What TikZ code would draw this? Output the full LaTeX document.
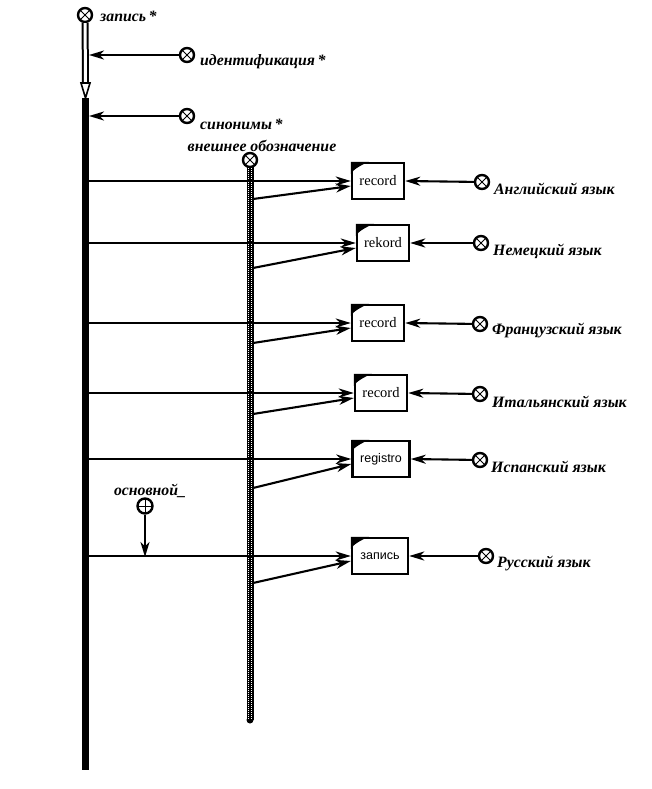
\documentclass[tikz,border=0pt]{standalone}
\usepackage{fontspec}
\setmainfont{Liberation Serif}
\newfontfamily\boxfont{Liberation Sans}
\usetikzlibrary{arrows.meta,calc}
\begin{document}
\begin{tikzpicture}[x=1pt,y=-1pt,
  lbl/.style={font=\fontsize{15.8}{18}\selectfont\bfseries\itshape, inner sep=0pt},
  xcirc/.style={circle, draw, line width=2.4pt, minimum size=14pt, inner sep=0pt, fill=white,
    path picture={\draw[line width=0.8pt] (path picture bounding box.north west)--(path picture bounding box.south east)
      (path picture bounding box.north east)--(path picture bounding box.south west);}},
  pcirc/.style={circle, draw, line width=2.4pt, minimum size=15pt, inner sep=0pt, fill=white,
    path picture={\draw[line width=1pt] (path picture bounding box.north)--(path picture bounding box.south)
      (path picture bounding box.east)--(path picture bounding box.west);}},
  conn/.style={line width=2.1pt, -{Stealth[length=15pt,width=9pt,inset=4.5pt]}},
  term/.style={rectangle, draw, line width=2.4pt, minimum width=52pt, minimum height=36pt, fill=white,
    inner sep=1pt, font=\fontsize{14.5}{16}\selectfont}]
\useasboundingbox (0,0) rectangle (652,789);

% main bar
\draw[line width=7.5pt] (85.5,98) -- (85.5,770);
\coordinate (mainx) at (89,0);
% hatched bar
\fill[black] (246.5,166) rectangle (253.5,720);
\fill[black] (250,720) circle (3.5);
\foreach \xx in {248.5,251.5}
  \draw[white, line width=1pt, dash pattern=on 1pt off 1pt] (\xx,168) -- (\xx,719);
\coordinate (hatx) at (253,0);

% circles
\node[xcirc] (c1) at (85,15) {};
\node[xcirc] (c2) at (187,55) {};
\node[xcirc] (c3) at (187,116) {};
\node[xcirc] (c4) at (250,160) {};
\node[pcirc] (p1) at (145,506) {};

% labels
\node[lbl, anchor=west] at (100,16) {запись\,*};
\node[lbl, anchor=west] at (200,62) {идентификация\,*};
\node[lbl, anchor=west] at (200,124) {синонимы\,*};
\node[lbl] at (262,146) {внешнее обозначение};
\node[lbl] at (150,491) {основной\_};

% double line from c1
\draw[line width=2pt, double=white, double distance=3pt] (c1) -- (85.5,84);
\filldraw[fill=white, line width=1.6pt] (81,83) -- (85.5,98) -- (90,83) -- cycle;

\draw[conn] (c2) -- (mainx |- c2);
\draw[conn] (c3) -- (mainx |- c3);

% terminal boxes
\node[term] (b1) at (378,181) {record};
\node[term] (b2) at (383,243) {rekord};
\node[term] (b3) at (378,323) {record};
\node[term] (b4) at (381,393) {record};
\node[term, minimum width=57pt, font=\fontsize{12.5}{14}\selectfont\boxfont] (b5) at (381,459) {registro};
\node[term, minimum width=56pt, font=\fontsize{12.5}{14}\selectfont\boxfont] (b6) at (380,556) {запись};
\foreach \b in {b1,b2,b3,b4,b5,b6}
  \fill (\b.north west) -- ++(18,0) .. controls +(-7,3) and +(3,-5) .. ++(-18,12) -- cycle;

% language circles
\node[xcirc] (l1) at (482,182) {};
\node[xcirc] (l2) at (481,243) {};
\node[xcirc] (l3) at (480,324) {};
\node[xcirc] (l4) at (480,394) {};
\node[xcirc] (l5) at (480,460) {};
\node[xcirc] (l6) at (486,556) {};
\node[lbl, anchor=west] at (494,189) {Английский язык};
\node[lbl, anchor=west] at (493,251) {Немецкий язык};
\node[lbl, anchor=west] at (492,331) {Французский язык};
\node[lbl, anchor=west] at (492,402) {Итальянский язык};
\node[lbl, anchor=west] at (491,467) {Испанский язык};
\node[lbl, anchor=west] at (497,564) {Русский язык};

% connectors
\foreach \b/\l/\ys in {b1/l1/199, b2/l2/268, b3/l3/343, b4/l4/414, b5/l5/488, b6/l6/583} {
  \draw[conn] (mainx |- \b.west) -- (\b.west);
  \draw[conn] (253,\ys) -- ($(\b.west)+(0,5)$);
  \draw[conn] (\l) -- (\b.east);
}
\coordinate (q) at (145,557);
\draw[conn] (p1) -- (q);
\end{tikzpicture}
\end{document}
